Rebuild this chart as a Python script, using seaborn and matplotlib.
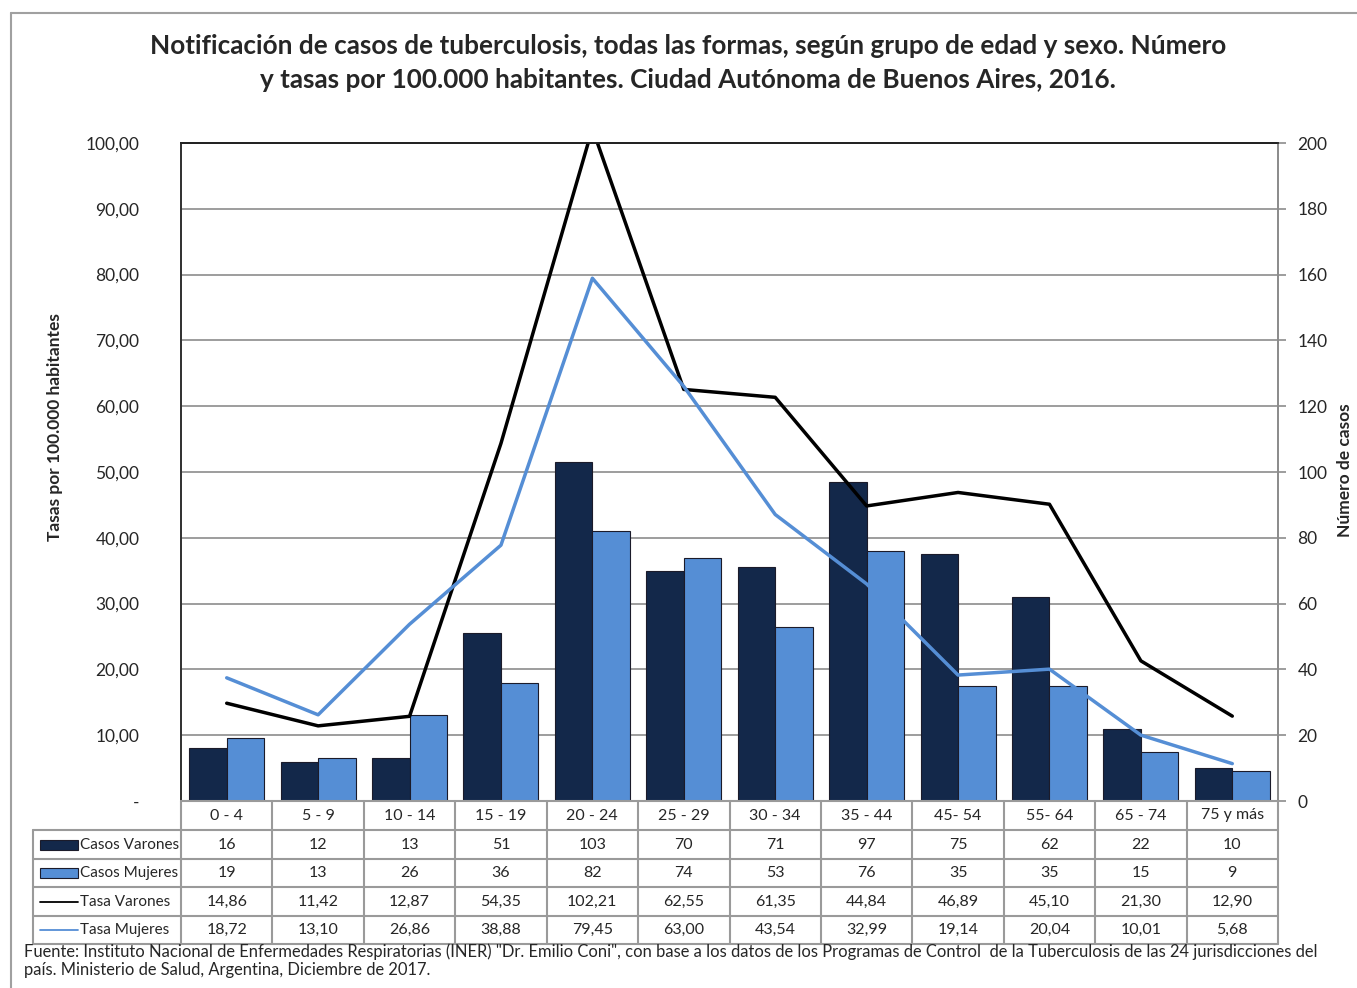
import numpy as np
import pandas as pd
import matplotlib
matplotlib.use("Agg")
import matplotlib.pyplot as plt
import matplotlib.transforms as mtransforms
from matplotlib.patches import Rectangle
from matplotlib.lines import Line2D
import seaborn as sns

# ==========================================
# datos
# ==========================================
grupos = ['0 - 4', '5 - 9', '10 - 14', '15 - 19', '20 - 24', '25 - 29', '30 - 34',
          '35 - 44', '45- 54', '55- 64', '65 - 74', '75 y más']
casos_varones = [16, 12, 13, 51, 103, 70, 71, 97, 75, 62, 22, 10]
casos_mujeres = [19, 13, 26, 36, 82, 74, 53, 76, 35, 35, 15, 9]
tasa_varones = [14.86, 11.42, 12.87, 54.35, 102.21, 62.55, 61.35, 44.84, 46.89, 45.10, 21.30, 12.90]
tasa_mujeres = [18.72, 13.10, 26.86, 38.88, 79.45, 63.00, 43.54, 32.99, 19.14, 20.04, 10.01, 5.68]

series_labels = ['Casos Varones', 'Casos Mujeres', 'Tasa Varones', 'Tasa Mujeres']

navy = '#13284a'
azul = '#558ed5'

df_bars = pd.DataFrame({
    'grupo': grupos * 2,
    'casos': casos_varones + casos_mujeres,
    'sexo': ['Varones'] * len(grupos) + ['Mujeres'] * len(grupos),
})
df_lines = pd.DataFrame({
    'pos': list(range(len(grupos))) * 2,
    'tasa': tasa_varones + tasa_mujeres,
    'sexo': ['Varones'] * len(grupos) + ['Mujeres'] * len(grupos),
})

# ==========================================
# estilo
# ==========================================
sns.set_theme(style="white")
plt.rcParams['font.family'] = ['Lato', 'DejaVu Sans']

W, H = 1357, 988
fig = plt.figure(figsize=(W / 100, H / 100), dpi=100)

def fx(px):
    return px / W

def fy(py):
    return 1 - py / H

left, right, top, bottom = 181, 1278, 143, 801
ax = fig.add_axes([fx(left), fy(bottom), fx(right - left), (bottom - top) / H])

# barras (eje derecho: numero de casos)
sns.barplot(data=df_bars, x='grupo', y='casos', hue='sexo', palette=[navy, azul],
            saturation=1, width=0.82, edgecolor='#1b1b2a', linewidth=0.8,
            legend=False, ax=ax, zorder=2)
ax.set_xlim(-0.5, len(grupos) - 0.5)
ax.set_ylim(0, 200)
ax.set_yticks(np.arange(0, 201, 20))
ax.grid(axis='y', color='#8c8c8c', linewidth=1.2, zorder=0)
ax.set_axisbelow(True)
ax.set_xticks([])
ax.set_xlabel('')
ax.set_ylabel('')

# lineas (eje izquierdo: tasas)
ax2 = ax.twinx()
sns.lineplot(data=df_lines, x='pos', y='tasa', hue='sexo', palette=['black', azul],
             linewidth=2.5, legend=False, ax=ax2)
ax2.set_ylim(0, 100)
ax2.set_yticks(np.arange(0, 101, 10))
ax2.set_yticklabels(['-'] + [f'{v:.2f}'.replace('.', ',') for v in np.arange(10, 101, 10)])
ax2.set_xlabel('')
ax2.set_ylabel('')
ax2.grid(False)

# twinx cambia los lados: casos a la derecha, tasas a la izquierda
ax.yaxis.tick_right()
ax2.yaxis.tick_left()
ax.tick_params(axis='y', which='both', right=True, left=False, length=6, width=1.2,
               color='#8c8c8c', pad=8, labelsize=12.5)
ax2.tick_params(axis='y', left=True, right=False, length=0, pad=30, labelsize=12.5)

for a in (ax, ax2):
    a.spines['top'].set_color('#222222')
    a.spines['left'].set_color('#333333')
    a.spines['right'].set_color('#8c8c8c')
    a.spines['bottom'].set_color('#999999')
    for s in a.spines.values():
        s.set_linewidth(1.3)

# ==========================================
# tabla de datos
# ==========================================
trans = mtransforms.blended_transform_factory(ax.transData, fig.transFigure)
grid_c = '#9a9a9a'
row_edges = [801, 830, 859, 887, 916, 944]
n = len(grupos)

# lineas horizontales
fig.add_artist(Line2D([-0.5, n - 0.5], [fy(801)] * 2, transform=trans, color=grid_c, lw=1.5))
for py in row_edges[1:]:
    fig.add_artist(Line2D([fx(33), fx(right)], [fy(py)] * 2, transform=fig.transFigure,
                          color=grid_c, lw=1.5))
# lineas verticales
for k in range(n + 1):
    fig.add_artist(Line2D([k - 0.5, k - 0.5], [fy(801), fy(944)], transform=trans,
                          color=grid_c, lw=1.5))
fig.add_artist(Line2D([fx(33), fx(33)], [fy(830), fy(944)], transform=fig.transFigure,
                      color=grid_c, lw=1.5))

rows = [
    [str(v) for v in casos_varones],
    [str(v) for v in casos_mujeres],
    [f'{v:.2f}'.replace('.', ',') for v in tasa_varones],
    [f'{v:.2f}'.replace('.', ',') for v in tasa_mujeres],
]
centers = [(row_edges[i] + row_edges[i + 1]) / 2 for i in range(len(row_edges) - 1)]

for k, g in enumerate(grupos):
    fig.text(k, fy(centers[0]), g, transform=trans, ha='center', va='center', fontsize=11.5)
for r, vals in enumerate(rows):
    for k, v in enumerate(vals):
        fig.text(k, fy(centers[r + 1]), v, transform=trans, ha='center', va='center',
                 fontsize=11.5)

# leyenda dentro de la tabla
for r, lab in enumerate(series_labels):
    cy = centers[r + 1]
    if r < 2:
        fig.add_artist(Rectangle((fx(40), fy(cy + 5)), fx(38), 10 / H,
                                 transform=fig.transFigure,
                                 facecolor=[navy, azul][r], edgecolor='#1b1b2a', lw=0.8))
    else:
        fig.add_artist(Line2D([fx(40), fx(78)], [fy(cy)] * 2, transform=fig.transFigure,
                              color=['black', azul][r - 2], lw=1.3))
    fig.text(fx(80), fy(cy), lab, ha='left', va='center', fontsize=11)

# ==========================================
# textos
# ==========================================
fig.text(fx(688), fy(46), 'Notificación de casos de tuberculosis, todas las formas, según grupo de edad y sexo. Número',
         ha='center', va='center', fontsize=18.8, fontweight='bold')
fig.text(fx(688), fy(80), 'y tasas por 100.000 habitantes. Ciudad Autónoma de Buenos Aires, 2016.',
         ha='center', va='center', fontsize=18.8, fontweight='bold')
fig.text(fx(55), fy(427), 'Tasas por 100.000 habitantes', rotation=90, ha='center',
         va='center', fontsize=12.5, fontweight='bold')
fig.text(fx(1345), fy(470), 'Número de casos', rotation=90, ha='center', va='center',
         fontsize=12.5, fontweight='bold')
fig.text(fx(24), fy(952), 'Fuente: Instituto Nacional de Enfermedades Respiratorias (INER) "Dr. Emilio Coni", con base a los datos de los Programas de Control  de la Tuberculosis de las 24 jurisdicciones del',
         ha='left', va='center', fontsize=11.9)
fig.text(fx(24), fy(970), 'país. Ministerio de Salud, Argentina, Diciembre de 2017.',
         ha='left', va='center', fontsize=11.9)

# marco
fig.add_artist(Line2D([fx(11), 1], [fy(13)] * 2, transform=fig.transFigure, color='#a0a0a0', lw=1.5))
fig.add_artist(Line2D([fx(11), fx(11)], [fy(13), 0], transform=fig.transFigure, color='#a0a0a0', lw=1.5))

fig.savefig('out.png', dpi=100)
